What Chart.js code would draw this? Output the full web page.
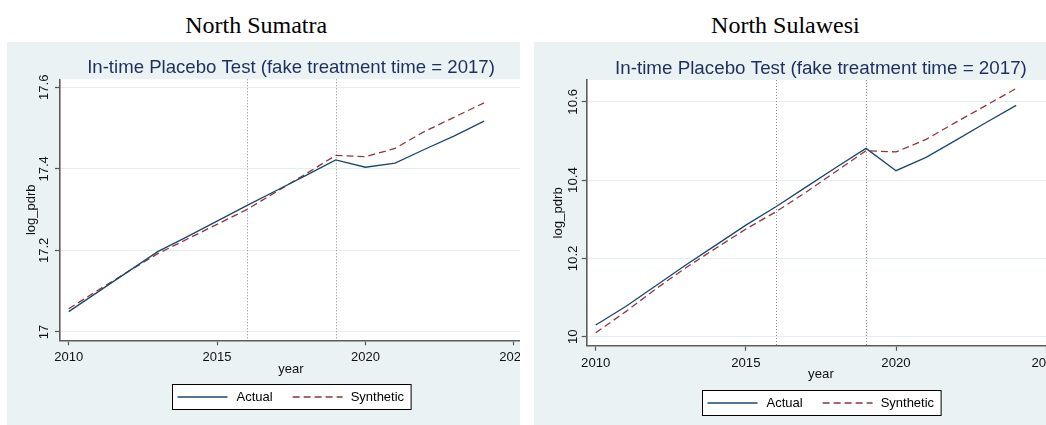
<!DOCTYPE html>
<html><head><meta charset="utf-8">
<script src="https://cdn.jsdelivr.net/npm/chart.js@4.4.1/dist/chart.umd.min.js"></script>
<style>
html,body{margin:0;padding:0;background:#fff}
body{width:1046px;height:425px;overflow:hidden;position:relative}
.head{position:absolute;top:13.2px;font-family:"Liberation Serif","Times New Roman",serif;font-size:24px;line-height:24px;color:#000;white-space:nowrap;transform:translateX(-50%)}
.panel{position:absolute;top:42px;height:383px;overflow:hidden;background:#eaf2f3}
.panel canvas{position:absolute;left:0;top:0}
</style></head><body>
<div class="head" id="head0" style="left:256.2px"></div>
<div class="head" id="head1" style="left:785.4px"></div>
<div class="panel" style="left:7px;width:513px"><canvas id="c0" width="540" height="383"></canvas></div>
<div class="panel" style="left:534px;width:512px"><canvas id="c1" width="540" height="383"></canvas></div>
<script>
// ---------------- data ----------------
const headings = ['North Sumatra', 'North Sulawesi'];
const subtitleText = 'In-time Placebo Test (fake treatment time = 2017)';
const xAxisTitle = 'year';
const yAxisTitle = 'log_pdrb';
const seriesLabels = ['Actual', 'Synthetic'];
const years = [2010, 2011, 2012, 2013, 2014, 2015, 2016, 2017, 2018, 2019, 2020, 2021, 2022, 2023, 2024];
const xTickValues = [2010, 2015, 2020, 2025];
const referenceYears = [2016, 2019];

const sumatraActual    = [17.050, 17.099, 17.148, 17.197, 17.234, 17.272, 17.310, 17.347, 17.384, 17.422, 17.404, 17.414, 17.448, 17.481, 17.517];
const sumatraSynthetic = [17.057, 17.103, 17.148, 17.192, 17.228, 17.264, 17.300, 17.344, 17.388, 17.433, 17.430, 17.450, 17.492, 17.527, 17.562];
const sumatraYTicks = [17, 17.2, 17.4, 17.6];

const sulawesiActual    = [10.030, 10.077, 10.130, 10.183, 10.234, 10.285, 10.332, 10.382, 10.432, 10.481, 10.424, 10.458, 10.502, 10.547, 10.591];
const sulawesiSynthetic = [10.010, 10.064, 10.122, 10.176, 10.226, 10.275, 10.319, 10.369, 10.422, 10.475, 10.472, 10.504, 10.548, 10.591, 10.634];
const sulawesiYTicks = [10, 10.2, 10.4, 10.6];

// ---------------- styling / layout ----------------
const COL_ACTUAL = '#1a476f';
const COL_SYNTH = '#90353b';
const SANS = '"Liberation Sans", Arial, Helvetica, sans-serif';

const panels = [
  { id: 'c0', actual: sumatraActual, synth: sumatraSynthetic, yTicks: sumatraYTicks,
    W: 540, H: 383, plot: { left: 53, right: 515, top: 37.3, bottom: 298.3 },
    xMin: 2009.707, xMax: 2025.278, yMin: 16.9796, yMax: 17.6196,
    subSize: 18.6, subBase: 30.7, tickSize: 13, yTickOff: 11.7, yTitleOff: 25,
    xTickOff: 20.7, xTitleOff: 32.2, legTop: 43.7, legH: 24.5 },
  { id: 'c1', actual: sulawesiActual, synth: sulawesiSynthetic, yTicks: sulawesiYTicks,
    W: 540, H: 383, plot: { left: 52.7, right: 521.2, top: 38, bottom: 303.7 },
    xMin: 2009.70, xMax: 2025.30, yMin: 9.977, yMax: 10.6557,
    subSize: 18.8, subBase: 32, tickSize: 13.2, yTickOff: 10, yTitleOff: 25.2,
    xTickOff: 21, xTitleOff: 32.3, legTop: 44.6, legH: 24.7 }
];

document.getElementById('head0').textContent = headings[0];
document.getElementById('head1').textContent = headings[1];

const XH = 30;

const plotBg = {
  id: 'plotBg',
  beforeDraw(chart) {
    const { ctx, chartArea: a } = chart;
    ctx.save();
    ctx.fillStyle = '#ffffff';
    ctx.fillRect(a.left, a.top, a.right - a.left, a.bottom - a.top);
    ctx.restore();
  }
};

const refLines = {
  id: 'refLines',
  beforeDatasetsDraw(chart) {
    const { ctx, chartArea: a, scales: { x } } = chart;
    ctx.save();
    ctx.strokeStyle = '#8a8a8a';
    ctx.lineWidth = 1;
    ctx.setLineDash([1, 2]);
    referenceYears.forEach(v => {
      const px = Math.round(x.getPixelForValue(v)) + 0.5;
      ctx.beginPath();
      ctx.moveTo(px, a.top);
      ctx.lineTo(px, a.bottom);
      ctx.stroke();
    });
    ctx.restore();
  }
};

const texts = {
  id: 'texts',
  afterDraw(chart, args, o) {
    const { ctx, chartArea: a, scales: { x, y } } = chart;
    const cx = (a.left + a.right) / 2;
    const cy = (a.top + a.bottom) / 2;
    ctx.save();
    ctx.textBaseline = 'alphabetic';
    // subtitle
    ctx.fillStyle = '#1e2f5f';
    ctx.font = o.subSize + 'px ' + SANS;
    ctx.textAlign = 'center';
    ctx.fillText(subtitleText, cx, o.subBase);
    // x tick labels
    ctx.fillStyle = '#111';
    ctx.font = o.tickSize + 'px ' + SANS;
    x.ticks.forEach(t => ctx.fillText(String(t.value), x.getPixelForValue(t.value), a.bottom + o.xTickOff));
    // x title
    ctx.fillText(xAxisTitle, cx, a.bottom + o.xTitleOff);
    // y tick labels (rotated)
    y.ticks.forEach(t => {
      ctx.save();
      ctx.translate(a.left - o.yTickOff, y.getPixelForValue(t.value));
      ctx.rotate(-Math.PI / 2);
      ctx.fillText(String(t.value), 0, 0);
      ctx.restore();
    });
    // y title
    ctx.save();
    ctx.translate(a.left - o.yTitleOff, cy);
    ctx.rotate(-Math.PI / 2);
    ctx.fillText(yAxisTitle, 0, 0);
    ctx.restore();
    // legend
    ctx.font = '13px ' + SANS;
    const ds = chart.data.datasets;
    const w0 = ctx.measureText(ds[0].label).width;
    const w1 = ctx.measureText(ds[1].label).width;
    const bw = 5 + 50 + 9 + w0 + 20 + 50 + 8 + w1 + 7;
    const bx = Math.round(cx - bw / 2) + 0.5;
    const by = Math.round(a.bottom + o.legTop) + 0.5;
    const bh = Math.round(o.legH);
    ctx.fillStyle = '#fff';
    ctx.fillRect(bx, by, bw, bh);
    ctx.strokeStyle = '#000';
    ctx.lineWidth = 1;
    ctx.setLineDash([]);
    ctx.strokeRect(bx, by, bw, bh);
    const ly = by + bh / 2;
    let px = bx + 5;
    ctx.lineWidth = 1.3;
    ctx.strokeStyle = ds[0].borderColor;
    ctx.setLineDash(ds[0].borderDash || []);
    ctx.beginPath(); ctx.moveTo(px, ly); ctx.lineTo(px + 50, ly); ctx.stroke();
    px += 59;
    ctx.fillStyle = '#000';
    ctx.textAlign = 'left';
    ctx.textBaseline = 'middle';
    ctx.fillText(ds[0].label, px, ly + 0.5);
    px += w0 + 20;
    ctx.strokeStyle = ds[1].borderColor;
    ctx.setLineDash(ds[1].borderDash || []);
    ctx.beginPath(); ctx.moveTo(px, ly); ctx.lineTo(px + 50, ly); ctx.stroke();
    px += 58;
    ctx.fillText(ds[1].label, px, ly + 0.5);
    ctx.restore();
  }
};

panels.forEach(p => {
  const toPts = arr => years.map((yr, i) => ({ x: yr, y: arr[i] }));
  new Chart(document.getElementById(p.id), {
    type: 'line',
    data: {
      datasets: [
        { label: seriesLabels[0], data: toPts(p.actual), borderColor: COL_ACTUAL, borderWidth: 1.3,
          pointRadius: 0, tension: 0, fill: false },
        { label: seriesLabels[1], data: toPts(p.synth), borderColor: COL_SYNTH, borderWidth: 1.3,
          borderDash: [7, 4], pointRadius: 0, tension: 0, fill: false }
      ]
    },
    options: {
      responsive: false, animation: false, devicePixelRatio: 1,
      layout: { padding: { left: 0, top: p.plot.top, right: p.W - p.plot.right, bottom: p.H - p.plot.bottom - XH } },
      plugins: { legend: { display: false }, tooltip: { enabled: false }, title: { display: false }, texts: p },
      scales: {
        x: {
          type: 'linear', min: p.xMin, max: p.xMax,
          afterBuildTicks: s => { s.ticks = xTickValues.map(v => ({ value: v })); },
          afterFit: s => { s.height = XH; },
          ticks: { display: false },
          grid: { drawOnChartArea: false, drawTicks: true, tickLength: 5, tickColor: '#555', tickWidth: 1.2 },
          border: { color: '#5c5c5c', width: 1.6 }
        },
        y: {
          type: 'linear', min: p.yMin, max: p.yMax,
          afterBuildTicks: s => { s.ticks = p.yTicks.map(v => ({ value: v })); },
          afterFit: s => { s.width = p.plot.left; },
          ticks: { display: false },
          grid: { color: '#e4edef', lineWidth: 1, drawTicks: true, tickLength: 5, tickColor: '#555', tickWidth: 1.2 },
          border: { color: '#5c5c5c', width: 1.6 }
        }
      }
    },
    plugins: [plotBg, refLines, texts]
  });
});
</script>
</body></html>
